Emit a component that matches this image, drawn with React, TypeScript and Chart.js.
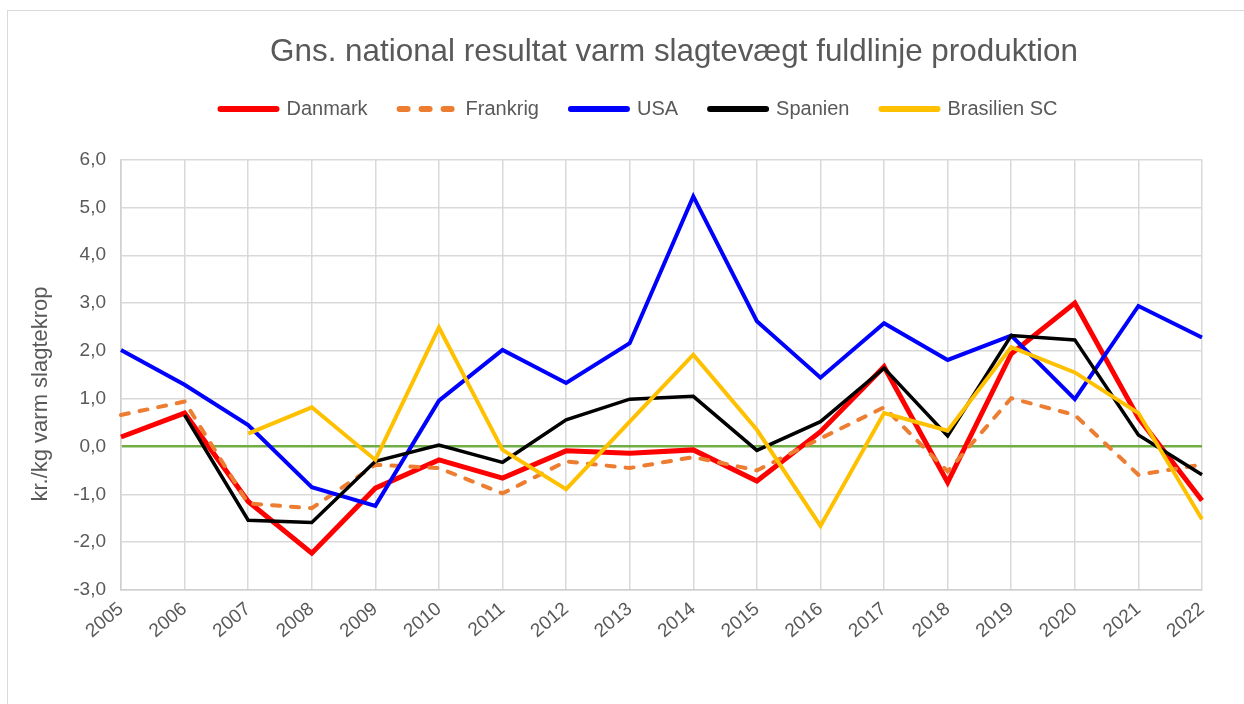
import { useEffect, useRef } from 'react';
import { Chart, registerables } from 'chart.js';

Chart.register(...registerables);

const years = ['2005', '2006', '2007', '2008', '2009', '2010', '2011', '2012', '2013', '2014', '2015', '2016', '2017', '2018', '2019', '2020', '2021', '2022'];

const danmark = [0.2, 0.7, -1.15, -2.23, -0.87, -0.28, -0.66, -0.09, -0.14, -0.07, -0.72, 0.31, 1.67, -0.75, 1.94, 3.0, 0.6, -1.13];
const frankrig = [0.66, 0.94, -1.19, -1.29, -0.38, -0.45, -0.98, -0.31, -0.45, -0.22, -0.5, 0.17, 0.82, -0.52, 1.01, 0.66, -0.59, -0.38];
const usa = [2.02, 1.29, 0.45, -0.85, -1.24, 0.96, 2.02, 1.33, 2.16, 5.23, 2.62, 1.44, 2.58, 1.81, 2.32, 0.99, 2.94, 2.28];
const spanien = [null, 0.66, -1.54, -1.59, -0.31, 0.03, -0.33, 0.56, 0.99, 1.05, -0.08, 0.52, 1.64, 0.22, 2.32, 2.23, 0.24, -0.59];
const brasilien = [null, null, 0.27, 0.82, -0.28, 2.49, -0.07, -0.89, 0.52, 1.92, 0.35, -1.66, 0.7, 0.33, 2.08, 1.55, 0.7, -1.52];

const titleText = 'Gns. national resultat varm slagtevægt fuldlinje produktion';
const yTitleText = 'kr./kg varm slagtekrop';

const FONT = "'Liberation Sans', Arial, sans-serif";
const TEXT = '#595959';

export default function App() {
  const ref = useRef<HTMLCanvasElement>(null);

  useEffect(() => {
    document.body.style.overflow = 'hidden';
    const legendSpacer = {
      id: 'legendSpacer',
      beforeInit(chart: any) {
        const orig = chart.legend.fit;
        chart.legend.fit = function () {
          orig.bind(chart.legend)();
          this.height += 30.5;
        };
      },
    };
    const shiftBlocks = {
      id: 'shiftBlocks',
      afterLayout(chart: any) {
        if (chart.titleBlock) {
          chart.titleBlock.left += 69;
          chart.titleBlock.right += 69;
        }
        if (chart.legend) {
          chart.legend.left += 34;
          chart.legend.right += 34;
        }
      },
    };
    const yTitle = {
      id: 'yTitle',
      afterDraw(chart: any) {
        const ctx = chart.ctx;
        ctx.save();
        ctx.translate(33, 383);
        ctx.rotate(-Math.PI / 2);
        ctx.font = `22px ${FONT}`;
        ctx.fillStyle = TEXT;
        ctx.textAlign = 'center';
        ctx.textBaseline = 'middle';
        ctx.fillText(yTitleText, 0, 0);
        ctx.restore();
      },
    };

    const chart = new Chart(ref.current!, {
      type: 'line',
      data: {
        labels: years,
        datasets: [
          { label: 'Danmark', data: danmark, borderColor: '#FF0000', backgroundColor: '#FF0000', borderWidth: 5, order: 5 },
          { label: 'Frankrig', data: frankrig, borderColor: '#ED7D31', backgroundColor: '#ED7D31', borderWidth: 4, borderDash: [8, 11], borderCapStyle: 'round', order: 4 },
          { label: 'USA', data: usa, borderColor: '#0000FF', backgroundColor: '#0000FF', borderWidth: 4, order: 3 },
          { label: 'Spanien', data: spanien, borderColor: '#000000', backgroundColor: '#000000', borderWidth: 3.5, order: 2 },
          { label: 'Brasilien SC', data: brasilien, borderColor: '#FFC000', backgroundColor: '#FFC000', borderWidth: 4, order: 1 },
        ] as any,
      },
      options: {
        animation: false,
        responsive: true,
        maintainAspectRatio: false,
        elements: { point: { radius: 0, hoverRadius: 0 }, line: { tension: 0, borderJoinStyle: 'miter' } },
        layout: { padding: { left: 0, right: 42, top: 0, bottom: 0 } },
        plugins: {
          tooltip: { enabled: false },
          title: {
            display: true,
            text: titleText,
            color: TEXT,
            font: { family: FONT, size: 31.4, weight: 'normal', lineHeight: 0.927 },
            padding: { top: 27, bottom: 0 },
          },
          legend: {
            display: true,
            position: 'top',
            labels: {
              color: TEXT,
              font: { family: FONT, size: 20 },
              usePointStyle: true,
              pointStyle: 'line',
              pointStyleWidth: 56,
              padding: 32,
              sort: (a: any, b: any) => a.datasetIndex - b.datasetIndex,
              generateLabels: (c: any) => {
                const items = Chart.defaults.plugins.legend.labels.generateLabels(c);
                return items.map((it: any) => ({
                  ...it,
                  lineWidth: 6,
                  lineCap: 'round',
                  lineDash: it.text === 'Frankrig' ? [8, 14] : [],
                }));
              },
            },
          },
        },
        scales: {
          x: {
            offset: false,
            afterFit: (s: any) => { s.height = 114; },
            grid: { color: '#d9d9d9', lineWidth: 1.5, drawTicks: false },
            border: { color: '#d0d0d0', width: 1.5 },
            ticks: {
              autoSkip: false,
              minRotation: 40,
              maxRotation: 40,
              padding: 8,
              color: TEXT,
              font: { family: FONT, size: 19 },
            },
          },
          y: {
            min: -3,
            max: 6,
            afterFit: (s: any) => { s.width = 113; },
            grid: {
              drawTicks: false,
              color: (ctx: any) => (ctx.tick && ctx.tick.value === 0 ? '#70AD47' : '#d9d9d9'),
              lineWidth: (ctx: any) => (ctx.tick && ctx.tick.value === 0 ? 2.5 : 1.5),
            },
            border: { color: '#d0d0d0', width: 1.5 },
            ticks: {
              stepSize: 1,
              padding: 15,
              color: TEXT,
              font: { family: FONT, size: 19 },
              callback: (v: any) => Number(v).toFixed(1).replace('.', ','),
            },
          },
        },
      },
      plugins: [legendSpacer, shiftBlocks, yTitle],
    });
    return () => chart.destroy();
  }, []);

  return (
    <div
      style={{
        position: 'absolute',
        left: 7,
        top: 10,
        width: 1237,
        height: 694,
        boxSizing: 'border-box',
        borderLeft: '1px solid #d9d9d9',
        borderTop: '1px solid #d9d9d9',
        background: '#fff',
      }}
    >
      <canvas ref={ref} />
    </div>
  );
}
